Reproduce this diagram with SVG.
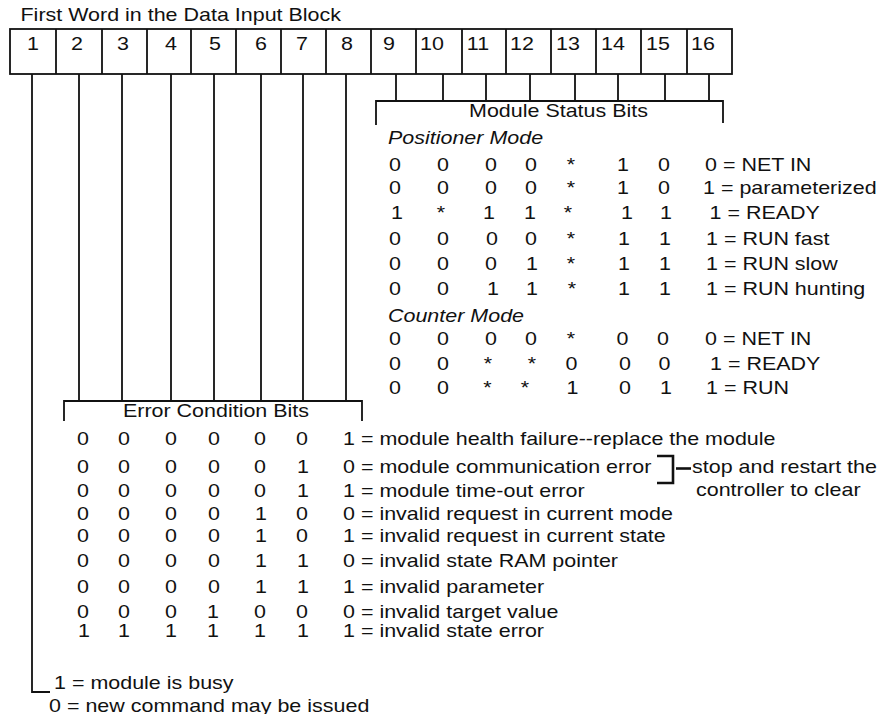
<svg xmlns="http://www.w3.org/2000/svg" width="887" height="714" viewBox="0 0 887 714">
<style>
text{font-family:"Liberation Sans",Arial,Helvetica,sans-serif;font-size:19px;fill:#111}
.m{text-anchor:middle}
.i{font-style:italic}
.ln{fill:none;stroke:#111;stroke-width:1.8}
.br{fill:none;stroke:#111;stroke-width:2.6}
</style>
<rect width="887" height="714" fill="#fff"/>

<g id="title">
<text transform="translate(20.5,20.7) scale(1.13,1)">First Word in the Data Input Block</text>
</g>

<g id="word">
<rect class="ln" x="10" y="29" width="722" height="45"/>
<path class="ln" d="M56,29V74M102,29V74M147,29V74M191,29V74M236,29V74M281,29V74M326,29V74M371,29V74M416,29V74M462,29V74M506,29V74M551,29V74M596,29V74M641,29V74M687,29V74"/>
<g class="m">
<text class="m" transform="translate(33,50) scale(1.13,1)">1</text>
<text class="m" transform="translate(77,50) scale(1.13,1)">2</text>
<text class="m" transform="translate(123,50) scale(1.13,1)">3</text>
<text class="m" transform="translate(171,50) scale(1.13,1)">4</text>
<text class="m" transform="translate(215,50) scale(1.13,1)">5</text>
<text class="m" transform="translate(261,50) scale(1.13,1)">6</text>
<text class="m" transform="translate(302,50) scale(1.13,1)">7</text>
<text class="m" transform="translate(347,50) scale(1.13,1)">8</text>
<text class="m" transform="translate(389,50) scale(1.13,1)">9</text>
<text class="m" transform="translate(432,50) scale(1.13,1)">10</text>
<text class="m" transform="translate(478,50) scale(1.13,1)">11</text>
<text class="m" transform="translate(522,50) scale(1.13,1)">12</text>
<text class="m" transform="translate(568,50) scale(1.13,1)">13</text>
<text class="m" transform="translate(613,50) scale(1.13,1)">14</text>
<text class="m" transform="translate(658,50) scale(1.13,1)">15</text>
<text class="m" transform="translate(703,50) scale(1.13,1)">16</text>
</g>
</g>

<g id="connectors">
<path class="ln" d="M32,74V692H50"/>
<path class="ln" d="M79,74V401M122,74V401M171,74V401M214,74V401M261,74V401M303,74V401M346,74V401"/>
<path class="ln" d="M64,421V401H362V421"/>
<path class="ln" d="M396,74V101M443,74V101M486,74V101M530,74V101M575,74V101M618,74V101M665,74V101M709,74V101"/>
<path class="ln" d="M376,125V101H723V123"/>
</g>

<g id="status-bits">
<text class="m" transform="translate(558.5,117) scale(1.13,1)">Module Status Bits</text>
<text class="i" transform="translate(388,144) scale(1.13,1)">Positioner Mode</text>
<g transform="translate(0,170.5)">
<text class="m" transform="translate(395,0) scale(1.13,1)">0</text><text class="m" transform="translate(443,0) scale(1.13,1)">0</text><text class="m" transform="translate(491,0) scale(1.13,1)">0</text><text class="m" transform="translate(531,0) scale(1.13,1)">0</text><text class="m" transform="translate(571,0) scale(1.13,1)">*</text><text class="m" transform="translate(623,0) scale(1.13,1)">1</text><text class="m" transform="translate(664,0) scale(1.13,1)">0</text>
<text transform="translate(705,0) scale(1.13,1)">0 = NET IN</text>
</g>
<g transform="translate(0,194)">
<text class="m" transform="translate(395,0) scale(1.13,1)">0</text><text class="m" transform="translate(443,0) scale(1.13,1)">0</text><text class="m" transform="translate(491,0) scale(1.13,1)">0</text><text class="m" transform="translate(531,0) scale(1.13,1)">0</text><text class="m" transform="translate(571,0) scale(1.13,1)">*</text><text class="m" transform="translate(623,0) scale(1.13,1)">1</text><text class="m" transform="translate(664,0) scale(1.13,1)">0</text>
<text transform="translate(703,0) scale(1.13,1)">1 = parameterized</text>
</g>
<g transform="translate(0,219)">
<text class="m" transform="translate(397,0) scale(1.13,1)">1</text><text class="m" transform="translate(441,0) scale(1.13,1)">*</text><text class="m" transform="translate(489,0) scale(1.13,1)">1</text><text class="m" transform="translate(530,0) scale(1.13,1)">1</text><text class="m" transform="translate(568,0) scale(1.13,1)">*</text><text class="m" transform="translate(627,0) scale(1.13,1)">1</text><text class="m" transform="translate(666,0) scale(1.13,1)">1</text>
<text transform="translate(709.5,0) scale(1.13,1)">1 = READY</text>
</g>
<g transform="translate(0,245)">
<text class="m" transform="translate(395,0) scale(1.13,1)">0</text><text class="m" transform="translate(443,0) scale(1.13,1)">0</text><text class="m" transform="translate(492,0) scale(1.13,1)">0</text><text class="m" transform="translate(531,0) scale(1.13,1)">0</text><text class="m" transform="translate(571,0) scale(1.13,1)">*</text><text class="m" transform="translate(624,0) scale(1.13,1)">1</text><text class="m" transform="translate(665,0) scale(1.13,1)">1</text>
<text transform="translate(706,0) scale(1.13,1)">1 = RUN fast</text>
</g>
<g transform="translate(0,270)">
<text class="m" transform="translate(395,0) scale(1.13,1)">0</text><text class="m" transform="translate(443,0) scale(1.13,1)">0</text><text class="m" transform="translate(491,0) scale(1.13,1)">0</text><text class="m" transform="translate(532,0) scale(1.13,1)">1</text><text class="m" transform="translate(571,0) scale(1.13,1)">*</text><text class="m" transform="translate(624,0) scale(1.13,1)">1</text><text class="m" transform="translate(665,0) scale(1.13,1)">1</text>
<text transform="translate(706,0) scale(1.13,1)">1 = RUN slow</text>
</g>
<g transform="translate(0,295)">
<text class="m" transform="translate(395,0) scale(1.13,1)">0</text><text class="m" transform="translate(443,0) scale(1.13,1)">0</text><text class="m" transform="translate(493,0) scale(1.13,1)">1</text><text class="m" transform="translate(532,0) scale(1.13,1)">1</text><text class="m" transform="translate(572,0) scale(1.13,1)">*</text><text class="m" transform="translate(624,0) scale(1.13,1)">1</text><text class="m" transform="translate(665,0) scale(1.13,1)">1</text>
<text transform="translate(706,0) scale(1.13,1)">1 = RUN hunting</text>
</g>
<text class="i" transform="translate(388,322) scale(1.13,1)">Counter Mode</text>
<g transform="translate(0,344.5)">
<text class="m" transform="translate(395,0) scale(1.13,1)">0</text><text class="m" transform="translate(443,0) scale(1.13,1)">0</text><text class="m" transform="translate(491,0) scale(1.13,1)">0</text><text class="m" transform="translate(531,0) scale(1.13,1)">0</text><text class="m" transform="translate(571,0) scale(1.13,1)">*</text><text class="m" transform="translate(622.5,0) scale(1.13,1)">0</text><text class="m" transform="translate(663,0) scale(1.13,1)">0</text>
<text transform="translate(705,0) scale(1.13,1)">0 = NET IN</text>
</g>
<g transform="translate(0,370)">
<text class="m" transform="translate(395,0) scale(1.13,1)">0</text><text class="m" transform="translate(443,0) scale(1.13,1)">0</text><text class="m" transform="translate(488,0) scale(1.13,1)">*</text><text class="m" transform="translate(532,0) scale(1.13,1)">*</text><text class="m" transform="translate(571.5,0) scale(1.13,1)">0</text><text class="m" transform="translate(625,0) scale(1.13,1)">0</text><text class="m" transform="translate(664.5,0) scale(1.13,1)">0</text>
<text transform="translate(710,0) scale(1.13,1)">1 = READY</text>
</g>
<g transform="translate(0,394)">
<text class="m" transform="translate(395,0) scale(1.13,1)">0</text><text class="m" transform="translate(443,0) scale(1.13,1)">0</text><text class="m" transform="translate(487.5,0) scale(1.13,1)">*</text><text class="m" transform="translate(525,0) scale(1.13,1)">*</text><text class="m" transform="translate(572.5,0) scale(1.13,1)">1</text><text class="m" transform="translate(625,0) scale(1.13,1)">0</text><text class="m" transform="translate(666,0) scale(1.13,1)">1</text>
<text transform="translate(706,0) scale(1.13,1)">1 = RUN</text>
</g>
</g>

<g id="error-bits">
<text class="m" transform="translate(216,417) scale(1.13,1)">Error Condition Bits</text>
<g transform="translate(0,445)">
<text class="m" transform="translate(83,0) scale(1.13,1)">0</text><text class="m" transform="translate(124,0) scale(1.13,1)">0</text><text class="m" transform="translate(171,0) scale(1.13,1)">0</text><text class="m" transform="translate(214,0) scale(1.13,1)">0</text><text class="m" transform="translate(260,0) scale(1.13,1)">0</text><text class="m" transform="translate(302,0) scale(1.13,1)">0</text>
<text transform="translate(343,0) scale(1.13,1)">1 = module health failure--replace the module</text>
</g>
<g transform="translate(0,473)">
<text class="m" transform="translate(83,0) scale(1.13,1)">0</text><text class="m" transform="translate(124,0) scale(1.13,1)">0</text><text class="m" transform="translate(171,0) scale(1.13,1)">0</text><text class="m" transform="translate(214,0) scale(1.13,1)">0</text><text class="m" transform="translate(260,0) scale(1.13,1)">0</text><text class="m" transform="translate(303,0) scale(1.13,1)">1</text>
<text transform="translate(343,0) scale(1.13,1)">0 = module communication error</text>
</g>
<g transform="translate(0,497)">
<text class="m" transform="translate(83,0) scale(1.13,1)">0</text><text class="m" transform="translate(124,0) scale(1.13,1)">0</text><text class="m" transform="translate(171,0) scale(1.13,1)">0</text><text class="m" transform="translate(214,0) scale(1.13,1)">0</text><text class="m" transform="translate(260,0) scale(1.13,1)">0</text><text class="m" transform="translate(303,0) scale(1.13,1)">1</text>
<text transform="translate(343,0) scale(1.13,1)">1 = module time-out error</text>
</g>
<g transform="translate(0,520)">
<text class="m" transform="translate(83,0) scale(1.13,1)">0</text><text class="m" transform="translate(124,0) scale(1.13,1)">0</text><text class="m" transform="translate(171,0) scale(1.13,1)">0</text><text class="m" transform="translate(214,0) scale(1.13,1)">0</text><text class="m" transform="translate(261,0) scale(1.13,1)">1</text><text class="m" transform="translate(302,0) scale(1.13,1)">0</text>
<text transform="translate(343,0) scale(1.13,1)">0 = invalid request in current mode</text>
</g>
<g transform="translate(0,542)">
<text class="m" transform="translate(83,0) scale(1.13,1)">0</text><text class="m" transform="translate(124,0) scale(1.13,1)">0</text><text class="m" transform="translate(171,0) scale(1.13,1)">0</text><text class="m" transform="translate(214,0) scale(1.13,1)">0</text><text class="m" transform="translate(261,0) scale(1.13,1)">1</text><text class="m" transform="translate(302,0) scale(1.13,1)">0</text>
<text transform="translate(343,0) scale(1.13,1)">1 = invalid request in current state</text>
</g>
<g transform="translate(0,567)">
<text class="m" transform="translate(83,0) scale(1.13,1)">0</text><text class="m" transform="translate(124,0) scale(1.13,1)">0</text><text class="m" transform="translate(171,0) scale(1.13,1)">0</text><text class="m" transform="translate(214,0) scale(1.13,1)">0</text><text class="m" transform="translate(261,0) scale(1.13,1)">1</text><text class="m" transform="translate(303,0) scale(1.13,1)">1</text>
<text transform="translate(343,0) scale(1.13,1)">0 = invalid state RAM pointer</text>
</g>
<g transform="translate(0,593)">
<text class="m" transform="translate(83,0) scale(1.13,1)">0</text><text class="m" transform="translate(124,0) scale(1.13,1)">0</text><text class="m" transform="translate(171,0) scale(1.13,1)">0</text><text class="m" transform="translate(214,0) scale(1.13,1)">0</text><text class="m" transform="translate(261,0) scale(1.13,1)">1</text><text class="m" transform="translate(303,0) scale(1.13,1)">1</text>
<text transform="translate(343,0) scale(1.13,1)">1 = invalid parameter</text>
</g>
<g transform="translate(0,618)">
<text class="m" transform="translate(83,0) scale(1.13,1)">0</text><text class="m" transform="translate(124,0) scale(1.13,1)">0</text><text class="m" transform="translate(171,0) scale(1.13,1)">0</text><text class="m" transform="translate(213,0) scale(1.13,1)">1</text><text class="m" transform="translate(260,0) scale(1.13,1)">0</text><text class="m" transform="translate(302,0) scale(1.13,1)">0</text>
<text transform="translate(343,0) scale(1.13,1)">0 = invalid target value</text>
</g>
<g transform="translate(0,637)">
<text class="m" transform="translate(84,0) scale(1.13,1)">1</text><text class="m" transform="translate(124,0) scale(1.13,1)">1</text><text class="m" transform="translate(171,0) scale(1.13,1)">1</text><text class="m" transform="translate(213,0) scale(1.13,1)">1</text><text class="m" transform="translate(260,0) scale(1.13,1)">1</text><text class="m" transform="translate(303,0) scale(1.13,1)">1</text>
<text transform="translate(343,0) scale(1.13,1)">1 = invalid state error</text>
</g>
</g>

<g id="restart-note">
<path class="br" d="M657,456H673V483H657"/>
<path class="br" d="M676,468.5H691"/>
<text transform="translate(692,473) scale(1.13,1)">stop and restart the</text>
<text transform="translate(696,496) scale(1.13,1)">controller to clear</text>
</g>

<g id="busy-bit">
<text transform="translate(54,689) scale(1.13,1)">1 = module is busy</text>
<text transform="translate(49,712) scale(1.13,1)">0 = new command may be issued</text>
</g>
</svg>
